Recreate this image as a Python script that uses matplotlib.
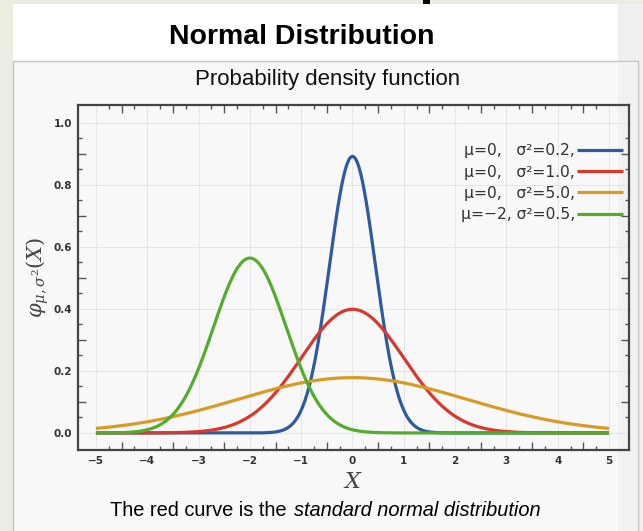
import numpy as np
import matplotlib
matplotlib.use("Agg")
import matplotlib.pyplot as plt
from matplotlib.patches import Rectangle
from matplotlib.ticker import FixedLocator, FuncFormatter

plt.rcParams["mathtext.fontset"] = "dejavuserif"

# parameters of the four normal curves
mus = [0, 0, 0, -2]
variances = [0.2, 1.0, 5.0, 0.5]
labels = ["μ=0,   σ²=0.2,", "μ=0,   σ²=1.0,", "μ=0,   σ²=5.0,", "μ=−2, σ²=0.5,"]
colors = ["#2d5aa0", "#d8392e", "#d99a26", "#52ad2b"]
x_ticks = [-5, -4, -3, -2, -1, 0, 1, 2, 3, 4, 5]
y_ticks = [0.0, 0.2, 0.4, 0.6, 0.8, 1.0]

W, H = 643, 531
fig = plt.figure(figsize=(W / 100, H / 100), dpi=100, facecolor="white")


def px_rect(x0, y0, x1, y1, **kw):
    # rectangle given in image pixels (origin top-left)
    r = Rectangle((x0 / W, 1 - y1 / H), (x1 - x0) / W, (y1 - y0) / H,
                  transform=fig.transFigure, zorder=-10, **kw)
    fig.add_artist(r)


# slide background pieces
px_rect(618, 0, W, H, facecolor="#efefef", edgecolor="none")
px_rect(0, 0, 13, H, facecolor="#ecece0", edgecolor="none")
px_rect(0, 0, W, 4, facecolor="#ecece0", edgecolor="none")
px_rect(423, 0, 430, 4, facecolor="black", edgecolor="none")
px_rect(13, 61, 638, H + 5, facecolor="#f8f8f8", edgecolor="#c4c4c4", linewidth=1)
px_rect(618, 62, 637, H, facecolor="#f1f1f1", edgecolor="none")

fig.text(302 / W, 1 - 37 / H, "Normal Distribution", ha="center", va="center",
         fontsize=20.5, fontweight="bold", family="Liberation Sans")
fig.text(328 / W, 1 - 80 / H, "Probability density function", ha="center", va="center",
         fontsize=16, family="Liberation Sans", color="#111111")
fig.text(292 / W, 1 - 511 / H, "The red curve is the ", ha="right", va="center",
         fontsize=14.4, family="Liberation Sans")
fig.text(294 / W, 1 - 511 / H, "standard normal distribution", ha="left", va="center",
         fontsize=14.4, family="Liberation Sans", style="italic")

ax = fig.add_axes([78 / W, 1 - 450 / H, (629 - 78) / W, (450 - 105) / H])
ax.set_facecolor("none")

x = np.linspace(-5, 5, 1001)
for mu, var, lab, c in zip(mus, variances, labels, colors):
    y = np.exp(-(x - mu) ** 2 / (2 * var)) / np.sqrt(2 * np.pi * var)
    ax.plot(x, y, color=c, linewidth=2.3, label=lab, solid_capstyle="butt")

ax.set_xlim(-5.35, 5.39)
ax.set_ylim(-0.055, 1.058)

# labelled positions carry only grid lines; tick marks sit between them
x_half = [v + 0.5 for v in x_ticks[:-1]]
x_quarter = [v + d for v in x_ticks[:-1] for d in (0.25, 0.75)]
y_half = [round(v + 0.1, 2) for v in y_ticks[:-1]]
y_quarter = [round(v + d, 2) for v in y_ticks[:-1] for d in (0.05, 0.15)]

ax.set_xticks(x_ticks)
ax.set_yticks(y_ticks)
ax.xaxis.set_major_formatter(FuncFormatter(lambda v, p: ("%d" % round(v)).replace("-", "\u2212")))
ax.yaxis.set_major_formatter(FuncFormatter(lambda v, p: "%.1f" % v))
ax.xaxis.set_minor_locator(FixedLocator(x_quarter))
ax.yaxis.set_minor_locator(FixedLocator(y_quarter))
ax.grid(True, which="major", color="#e3e7ea", linewidth=0.8)
ax.set_axisbelow(True)

ax.tick_params(which="major", direction="in", length=0, top=True, right=True,
               labelsize=7.5, labelcolor="#333333", pad=4)
ax.tick_params(which="minor", direction="in", length=3, width=1, color="#555555",
               top=True, right=True)
for lab in ax.get_xticklabels() + ax.get_yticklabels():
    lab.set_fontweight("bold")

# longer marks at the half steps
for loc in ("bottom", "top"):
    sec = ax.secondary_xaxis(loc)
    sec.set_xticks(x_half)
    sec.tick_params(direction="in", length=6, width=1, color="#555555",
                    labelbottom=False, labeltop=False)
    sec.spines[loc].set_visible(False)
for loc in ("left", "right"):
    sec = ax.secondary_yaxis(loc)
    sec.set_yticks(y_half)
    sec.tick_params(direction="in", length=6, width=1, color="#555555",
                    labelleft=False, labelright=False)
    sec.spines[loc].set_visible(False)

for s in ax.spines.values():
    s.set_color("#444444")
    s.set_linewidth(1.6)

ax.set_xlabel(r"$X$", fontsize=16, color="#444444", labelpad=5)
ax.set_ylabel(r"$\varphi_{\mu,\sigma^2}(X)$", fontsize=15, color="#444444", labelpad=2)

leg = ax.legend(loc="upper right", bbox_to_anchor=(1.008, 0.92), frameon=False,
                markerfirst=False, handlelength=2.9, handletextpad=0.15,
                labelspacing=0.4, borderpad=0.2,
                prop={"family": "DejaVu Sans", "size": 11.2})
for t in leg.get_texts():
    t.set_color("#333333")

fig.savefig("out.png", dpi=100, facecolor=fig.get_facecolor())
